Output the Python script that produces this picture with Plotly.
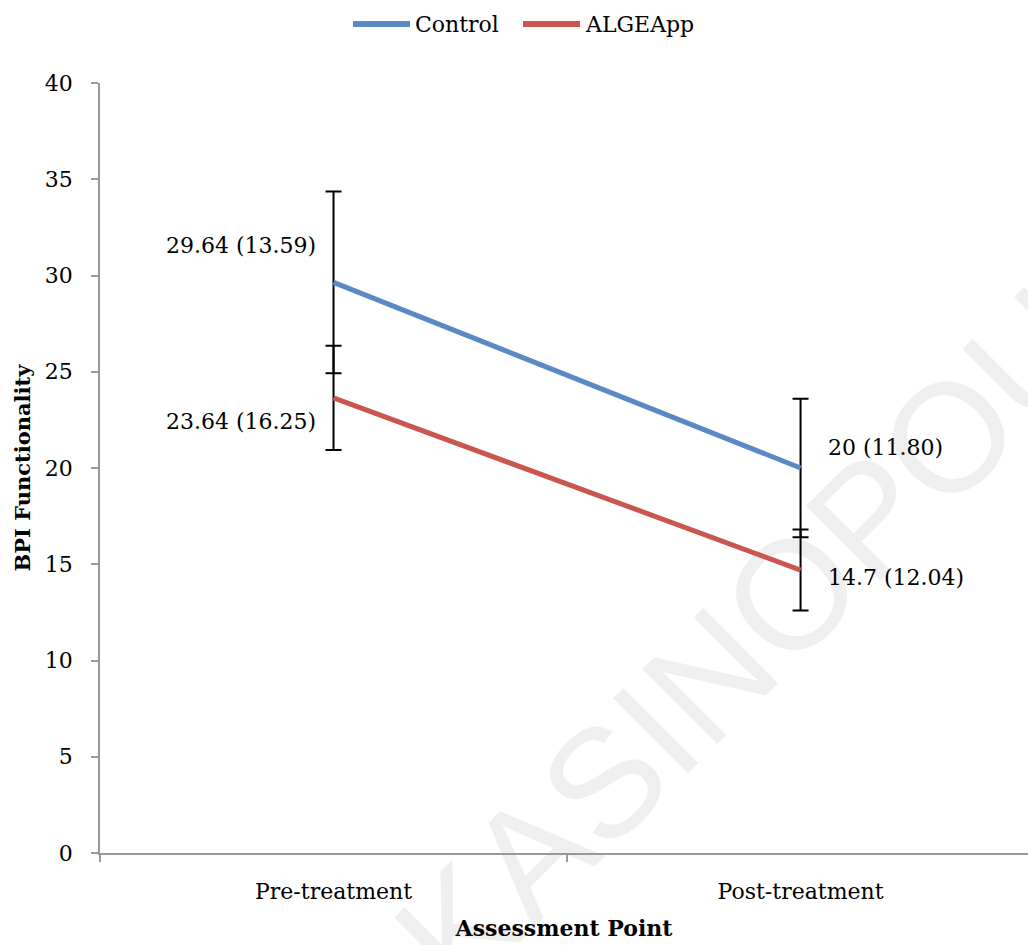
import plotly.graph_objects as go

# ---- data ----
categories = ["Pre-treatment", "Post-treatment"]
series_names = ["Control", "ALGEApp"]
control_mean = [29.64, 20.0]
control_sd = ["13.59", "11.80"]
control_err = [4.72, 3.6]
algeapp_mean = [23.64, 14.7]
algeapp_sd = ["16.25", "12.04"]
algeapp_err = [2.71, 2.1]
control_value_labels = ["29.64", "20"]
algeapp_value_labels = ["23.64", "14.7"]
y_ticks = [0, 5, 10, 15, 20, 25, 30, 35, 40]

colors = ["#5A8AC6", "#C9574F"]
FONT = "DejaVu Serif"

fig = go.Figure()

series = [
    (series_names[0], control_mean, control_err, colors[0]),
    (series_names[1], algeapp_mean, algeapp_err, colors[1]),
]
for name, mean, err, col in series:
    fig.add_trace(go.Scatter(
        x=categories, y=mean, name=name, mode="lines",
        line=dict(color=col, width=5),
        error_y=dict(type="data", array=err,
                     color="black", thickness=2, width=8),
        showlegend=False,
    ))

# data labels
label_specs = [
    (control_mean, control_value_labels, control_sd, [("right", -16, 37), ("left", 25, 21)]),
    (algeapp_mean, algeapp_value_labels, algeapp_sd, [("right", -16, -24), ("left", 25, -7)]),
]
annotations = []
for mean, vals, sds, pos in label_specs:
    for i, cat in enumerate(categories):
        xa, xs, ys = pos[i]
        annotations.append(dict(
            x=cat, y=mean[i], xref="x", yref="y",
            text=f"{vals[i]} ({sds[i]})", showarrow=False,
            xanchor=xa, yanchor="middle", xshift=xs, yshift=ys,
            font=dict(family=FONT, size=22, color="black"),
        ))

# manual legend
PL, PT, PH, PW = 100, 83, 770, 928
def px2x(p):
    return (p - PL) / PW
def px2y(p):
    return (PT + PH - p) / PH

shapes = []
leg = [(353, 410, 413), (523, 580, 583)]
for (x0, x1, tx), name, col in zip(leg, series_names, colors):
    shapes.append(dict(type="line", xref="paper", yref="paper",
                       x0=px2x(x0), x1=px2x(x1), y0=px2y(24), y1=px2y(24),
                       line=dict(color=col, width=6)))
    annotations.append(dict(x=px2x(tx), y=px2y(24), xref="paper", yref="paper",
                            text=name, showarrow=False, xanchor="left", yanchor="middle",
                            font=dict(family=FONT, size=22, color="black")))

# watermark
shapes.append(dict(type="line", xref="paper", yref="paper", layer="below",
                   x0=px2x(475), y0=px2y(1016), x1=px2x(1182), y1=px2y(309),
                   line=dict(color="rgba(0,0,0,0)", width=0),
                   label=dict(text="KASINOPOULOU", textposition="start",
                              font=dict(family="Liberation Sans", size=154, color="#EFEFEF"))))

fig.update_layout(
    width=1028, height=945,
    margin=dict(l=PL, r=0, t=PT, b=945 - PT - PH, pad=0),
    paper_bgcolor="white", plot_bgcolor="rgba(0,0,0,0)",
    showlegend=False,
    font=dict(family=FONT, size=22, color="black"),
    annotations=annotations, shapes=shapes,
    xaxis=dict(type="category", range=[-0.5, 1.487], tickson="boundaries",
               ticks="outside", ticklen=7, tickcolor="#999999", tickwidth=1.5,
               showline=True, linecolor="#999999", linewidth=1.5,
               showgrid=False, zeroline=False, ticklabelstandoff=18,
               tickfont=dict(family=FONT, size=22),
               title=dict(text="<b>Assessment Point</b>", standoff=17,
                          font=dict(family=FONT, size=22))),
    yaxis=dict(range=[0, 40], tickvals=y_ticks, ticks="outside", ticklen=7,
               tickcolor="#999999", tickwidth=1.5,
               showline=True, linecolor="#999999", linewidth=1.5,
               showgrid=False, zeroline=False, ticklabelstandoff=14,
               tickfont=dict(family=FONT, size=22),
               title=dict(text="<b>BPI Functionality</b>", standoff=8,
                          font=dict(family=FONT, size=21))),
)

fig.write_html("out.html")
